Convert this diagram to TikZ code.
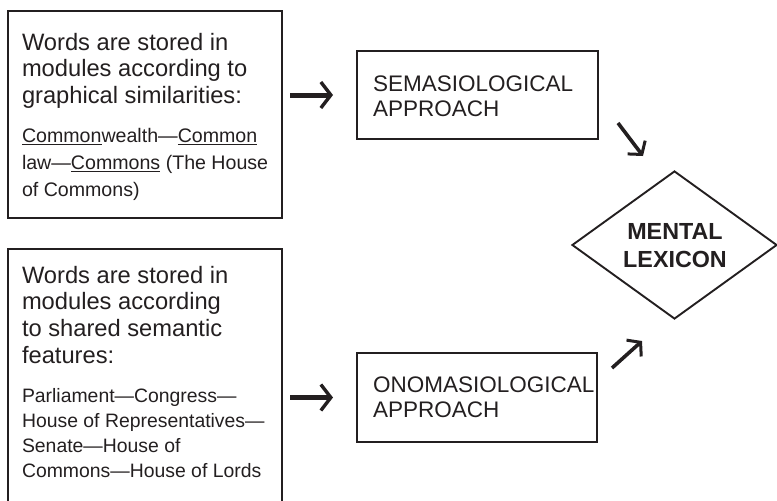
\documentclass[tikz,border=0pt]{standalone}
\usepackage{fontspec}
\setmainfont{Liberation Sans}
\usetikzlibrary{shapes.geometric,arrows.meta}
\definecolor{ink}{HTML}{231F20}
\begin{document}
\begin{tikzpicture}[x=1pt,y=-1pt,
  frame/.style={draw=ink, line width=2.4pt, inner sep=0pt, outer sep=0pt, anchor=north west},
  apbox/.style={draw=ink, line width=2.2pt, inner sep=0pt, outer sep=0pt, anchor=north west},
  txt/.style={anchor=north west, inner sep=0pt, outer sep=0pt, align=left, text=ink},
  bigtxt/.style={txt, font=\fontsize{23.7}{26.7}\selectfont},
  ex1/.style={txt, font=\fontsize{19.6}{26.7}\selectfont},
  ex2/.style={txt, font=\fontsize{19.4}{25}\selectfont},
  aptxt/.style={txt, font=\fontsize{22.5}{25}\selectfont},
  arr/.style={draw=ink, line width=5pt, -{Straight Barb[length=10pt,width=26pt,line width=3.4pt]}},
  darr/.style={draw=ink, line width=3.6pt, -{Straight Barb[length=9pt,width=22pt,line width=3pt]}}
]
\useasboundingbox (0,0) rectangle (777,501);
\clip (0,0) rectangle (777,501);

% left boxes
\node[frame, minimum width=274pt, minimum height=207pt] (b1) at (8,11) {};
\node[frame, minimum width=274pt, minimum height=270pt] (b2) at (8,249) {};

\node[bigtxt] (t1a) at (22,33) {Words are stored in\\modules according to\\graphical similarities:};
\node[ex1] (t1b) at (22,128.7) {\underline{Common}wealth—\underline{Common}\\law—\underline{Commons} (The House\\of Commons)};

\node[bigtxt] (t2a) at (22,266) {Words are stored in\\modules according\\to shared semantic\\features:};
\node[ex2] (t2b) at (22,388) {Parliament—Congress—\\House of Representatives—\\Senate—House of\\Commons—House of Lords};

% approach boxes
\node[apbox, minimum width=241pt, minimum height=88pt] (sem) at (357,51) {};
\node[aptxt] (semt) at (373,75.6) {SEMASIOLOGICAL\\APPROACH};
\node[apbox, minimum width=240pt, minimum height=89pt] (onom) at (357,353) {};
\node[aptxt] (onomt) at (373,376.6) {ONOMASIOLOGICAL\\APPROACH};

% mental lexicon
\node[draw=ink, line width=1.9pt, diamond, minimum width=205pt, minimum height=148pt, inner sep=0pt] (ml) at (674.5,245) {};
\node[anchor=north, inner sep=0pt, align=center, text=ink, font=\fontsize{23.3}{28}\selectfont\bfseries] (mlt) at (675,223) {MENTAL\\LEXICON};

% arrows
\draw[arr, shorten <=8pt, shorten >=24pt] (b1.east |- sem.center) -- (sem.west);
\draw[arr, shorten <=8pt, shorten >=24pt] (b2.east |- onom.center) -- (onom.west);
\coordinate (d1s) at (618,123);
\coordinate (d1e) at (643,156);
\coordinate (d2s) at (612,368);
\coordinate (d2e) at (642,341);
\draw[darr] (d1s) -- (d1e);
\draw[darr] (d2s) -- (d2e);
\end{tikzpicture}
\end{document}
